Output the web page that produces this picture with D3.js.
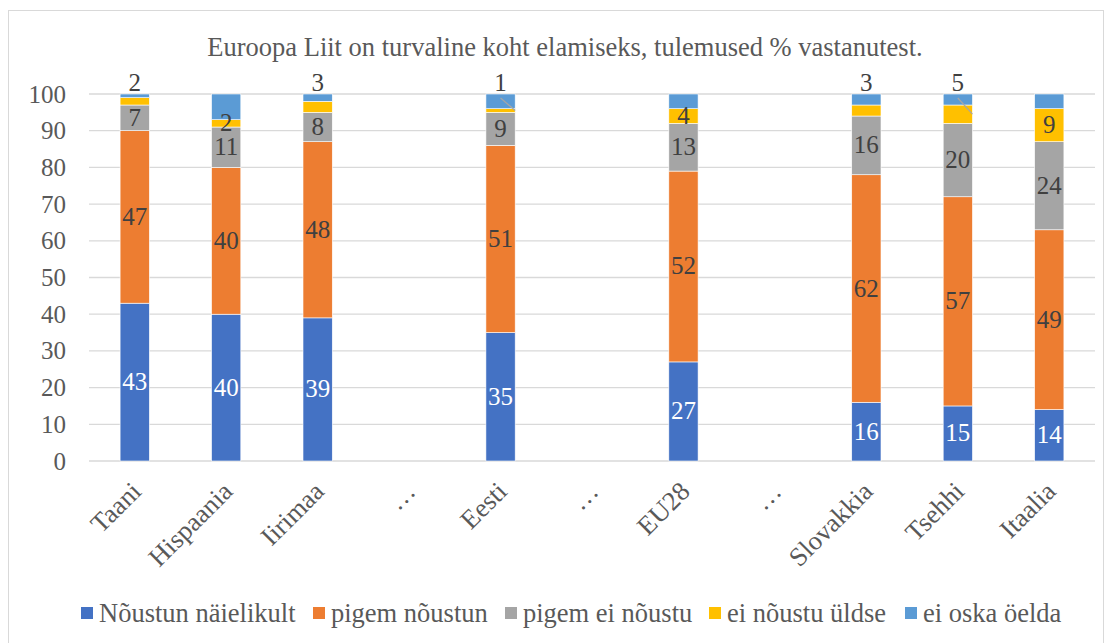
<!DOCTYPE html>
<html>
<head>
<meta charset="utf-8">
<script src="https://cdn.jsdelivr.net/npm/d3@7"></script>
<style>
    body { margin: 0; background: #fff; }
</style>
</head>
<body>
<div id="graafik"></div>
<script>
// Andmed (loetud pildilt)
var kategooriad = ["Taani", "Hispaania", "Iirimaa", "…", "Eesti", "…", "EU28", "…", "Slovakkia", "Tsehhi", "Itaalia"];
var noustunNaielikult = [43, 40, 39, null, 35, null, 27, null, 16, 15, 14];
var pigemNoustun = [47, 40, 48, null, 51, null, 52, null, 62, 57, 49];
var pigemEiNoustu = [7, 11, 8, null, 9, null, 13, null, 16, 20, 24];
var eiNoustuUldse = [2, 2, 3, null, 1, null, 4, null, 3, 5, 9];
var eiOskaOelda = [1, 7, 2, null, 4, null, 4, null, 3, 3, 4];
var yTicks = [0, 10, 20, 30, 40, 50, 60, 70, 80, 90, 100];
var seeriaNimed = ["Nõustun näielikult", "pigem nõustun", "pigem ei nõustu", "ei nõustu üldse", "ei oska öelda"];

// kollase seeria sildid, mis on tulba kohal, ja need millel on juhtjoon
var siltValjas = ["Taani", "Iirimaa", "Eesti", "Slovakkia", "Tsehhi"];
var juhtjoon = ["Eesti", "Tsehhi"];

var varvid = ["#4472C4", "#ED7D31", "#A5A5A5", "#FFC000", "#5B9BD5"];
var siltVarvid = ["#ffffff", "#404040", "#404040", "#404040", null];

var FONT = "Liberation Serif, serif";

var W = 1109, H = 643;
var margin = { top: 94, right: 14, bottom: 182, left: 89 };
var width = W - margin.left - margin.right,
    height = H - margin.top - margin.bottom;

var svgRoot = d3.select("#graafik").append("svg")
    .attr("width", W)
    .attr("height", H);

// Raam
svgRoot.append("rect")
    .attr("x", 8.5).attr("y", 10.5)
    .attr("width", 1095).attr("height", 700)
    .attr("fill", "none")
    .attr("stroke", "#D9D9D9")
    .attr("stroke-width", 1);

// Pealkiri
svgRoot.append("text")
    .attr("x", 565)
    .attr("y", 56)
    .attr("text-anchor", "middle")
    .style("font-family", FONT)
    .style("font-size", "26.5px")
    .style("fill", "#595959")
    .text("Euroopa Liit on turvaline koht elamiseks, tulemused % vastanutest.");

var svg = svgRoot.append("g")
    .attr("transform", "translate(" + margin.left + "," + margin.top + ")");

var x = d3.scaleBand()
    .domain(d3.range(kategooriad.length))
    .range([0, width])
    .paddingInner(0.68)
    .paddingOuter(0.34);

var y = d3.scaleLinear()
    .domain([0, 100])
    .range([height, 0]);

// Ruudustik
svg.append("g")
    .selectAll("line")
    .data(yTicks)
    .enter().append("line")
    .attr("x1", 0).attr("x2", width)
    .attr("y1", function (d) { return y(d); })
    .attr("y2", function (d) { return y(d); })
    .attr("stroke", "#D9D9D9")
    .attr("stroke-width", 1.3);

// Y telg
var yAxis = svg.append("g")
    .call(d3.axisLeft(y).tickValues(yTicks).tickSize(0).tickPadding(23));
yAxis.select(".domain").remove();
yAxis.selectAll("text")
    .attr("dy", null)
    .attr("y", 8)
    .style("font-size", "25px")
    .style("font-family", FONT)
    .style("fill", "#595959");

// X telg
var xAxis = svg.append("g")
    .attr("transform", "translate(0," + height + ")")
    .call(d3.axisBottom(x).tickSize(0).tickFormat(function (i) { return kategooriad[i]; }));
xAxis.select(".domain").remove();
xAxis.selectAll("text")
    .style("font-size", "26.5px")
    .style("font-family", FONT)
    .style("fill", "#595959")
    .style("text-anchor", "end")
    .attr("x", 0).attr("y", 0).attr("dy", null)
    .attr("transform", "translate(8,32) rotate(-45)");

// Virnastatud andmed
var tabel = kategooriad.map(function (k, i) {
    return {
        i: i, nimi: k,
        v: [noustunNaielikult[i], pigemNoustun[i], pigemEiNoustu[i], eiNoustuUldse[i], eiOskaOelda[i]]
    };
}).filter(function (d) { return d.v[0] !== null; });

var tykid = [];
tabel.forEach(function (d) {
    var alus = 0;
    d.v.forEach(function (val, s) {
        tykid.push({ i: d.i, nimi: d.nimi, s: s, y0: alus, y1: alus + val, val: val });
        alus += val;
    });
});

svg.selectAll(".tykk")
    .data(tykid)
    .enter().append("rect")
    .attr("class", "tykk")
    .attr("x", function (d) { return x(d.i); })
    .attr("width", x.bandwidth())
    .attr("y", function (d) { return y(d.y1); })
    .attr("height", function (d) { return y(d.y0) - y(d.y1); })
    .attr("fill", function (d) { return varvid[d.s]; })
    .attr("stroke", "#ffffff")
    .attr("stroke-width", 0.6);

// Sildid
var sildid = tykid.filter(function (d) { return siltVarvid[d.s] !== null; });
svg.selectAll(".silt")
    .data(sildid)
    .enter().append("text")
    .attr("class", "silt")
    .attr("x", function (d) { return x(d.i) + x.bandwidth() / 2; })
    .attr("y", function (d) {
        if (d.s === 3 && siltValjas.includes(d.nimi)) return y(103) + 8;
        return y((d.y0 + d.y1) / 2) + 8;
    })
    .attr("text-anchor", "middle")
    .style("font-family", FONT)
    .style("font-size", "25px")
    .style("fill", function (d) { return siltVarvid[d.s]; })
    .text(function (d) { return d.val; });

// Juhtjooned
svg.selectAll(".juht")
    .data(tykid.filter(function (d) { return d.s === 3 && juhtjoon.includes(d.nimi); }))
    .enter().append("line")
    .attr("x1", function (d) { return x(d.i) + x.bandwidth() / 2; })
    .attr("y1", y(100) + 4)
    .attr("x2", function (d) { return x(d.i) + x.bandwidth(); })
    .attr("y2", function (d) { return y((d.y0 + d.y1) / 2); })
    .attr("stroke", "#A6A6A6")
    .attr("stroke-width", 1.2);

// Legend
var legendX = [81, 313, 505, 709, 905];
var legend = svgRoot.append("g");
seeriaNimed.forEach(function (n, s) {
    var g = legend.append("g").attr("transform", "translate(" + legendX[s] + ",613)");
    g.append("rect")
        .attr("x", 0).attr("y", -6)
        .attr("width", 12).attr("height", 12)
        .attr("fill", varvid[s]);
    g.append("text")
        .attr("x", 18).attr("y", 9)
        .style("font-family", FONT)
        .style("font-size", "26.5px")
        .style("fill", "#595959")
        .text(n);
});
</script>
</body>
</html>
